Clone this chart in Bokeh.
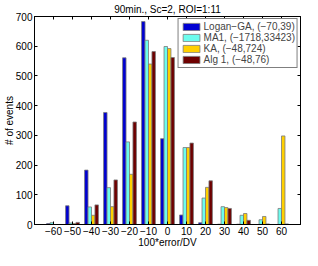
from bokeh.plotting import figure
from bokeh.models import (Range1d, FixedTicker, LinearAxis, Legend, LegendItem,
                          ColumnDataSource)
from bokeh.embed import file_html
from bokeh.resources import INLINE

# ---- data ----
bins = [-60, -50, -40, -30, -20, -10, 0, 10, 20, 30, 40, 50, 60]
logan_ga = [3, 63, 183, 377, 561, 683, 289, 32, 6, 1, 1, 0, 0]
ma1 = [6, 5, 59, 124, 278, 620, 599, 259, 89, 60, 31, 16, 54]
ka = [0, 3, 31, 60, 169, 540, 592, 259, 125, 57, 37, 27, 298]
alg1 = [0, 7, 66, 150, 345, 582, 562, 274, 147, 54, 14, 2, 2]
series_names = ["Logan\u2212GA, (\u221270,39)", "MA1, (\u22121718,33423)",
                "KA, (\u221248,724)", "Alg 1, (\u221248,76)"]
series_colors = ["#0000D2", "#6CFCEE", "#FFD000", "#6E0000"]
x_ticks = bins
x_tick_labels = ["\u221260", "\u221250", "\u221240", "\u221230", "\u221220", "\u221210",
                 "0", "10", "20", "30", "40", "50", "60"]
y_ticks = [0, 100, 200, 300, 400, 500, 600, 700]
title_text = "90min., Sc=2, ROI=1:11"
x_label = "100*error/DV"
y_label = "# of events"

FONT = "Liberation Sans"
FS = "10px"

p = figure(width=302, height=250, output_backend="svg", toolbar_location=None,
           x_range=Range1d(-70, 70), y_range=Range1d(0, 700),
           min_border_left=10, min_border_right=2, min_border_top=4, min_border_bottom=4,
           x_axis_location=None, y_axis_location=None)
p.xgrid.visible = False
p.ygrid.visible = False
p.outline_line_color = "black"
p.outline_line_width = 1
p.background_fill_color = "white"

def style_axis(ax, ticks, labels=None, show_labels=True):
    ax.ticker = FixedTicker(ticks=ticks)
    ax.major_tick_in = 3
    ax.major_tick_out = 0
    ax.minor_tick_line_color = None
    ax.axis_line_color = "black"
    ax.major_tick_line_color = "black"
    ax.axis_label_text_font = FONT
    ax.axis_label_text_font_size = FS
    ax.axis_label_text_font_style = "normal"
    ax.axis_label_text_color = "black"
    ax.axis_label_text_line_height = 0.9
    if labels is not None:
        ax.major_label_overrides = {t: l for t, l in zip(ticks, labels)}
    if show_labels:
        ax.major_label_text_font = FONT
        ax.major_label_text_font_size = FS
        ax.major_label_text_color = "black"
        ax.major_label_text_line_height = 0.9
        ax.major_label_standoff = 2
    else:
        ax.major_label_text_font_size = "0px"
        ax.major_label_text_color = None
        ax.major_label_standoff = 0

xb = LinearAxis(axis_label=x_label, axis_label_standoff=-1)
style_axis(xb, x_ticks, x_tick_labels)
p.add_layout(xb, "below")
xt = LinearAxis(axis_label=title_text, axis_label_standoff=2)
style_axis(xt, x_ticks, show_labels=False)
p.add_layout(xt, "above")
yl = LinearAxis(axis_label=y_label, axis_label_standoff=-2)
style_axis(yl, y_ticks)
p.add_layout(yl, "left")
yr = LinearAxis()
style_axis(yr, y_ticks, show_labels=False)
p.add_layout(yr, "right")

n = 4
group_w = 10 * min(0.8, n / (n + 1.5))
bw = group_w / n
items = []
for i, (vals, name, col) in enumerate(zip([logan_ga, ma1, ka, alg1], series_names, series_colors)):
    off = (i - (n - 1) / 2) * bw
    src = ColumnDataSource(dict(x=[b + off for b in bins], top=vals))
    r = p.vbar(x="x", top="top", width=bw, bottom=0, source=src,
               fill_color=col, line_color="#7A7A7A", line_width=0.8)
    items.append(LegendItem(label=name, renderers=[r]))

legend = Legend(items=items, location="top_right", orientation="vertical",
                label_text_font=FONT, label_text_font_size=FS,
                glyph_width=21, glyph_height=9, label_height=9, label_standoff=2,
                spacing=0, padding=2, margin=2,
                border_line_color="black", border_line_width=0.8,
                background_fill_color="white", background_fill_alpha=1.0)
p.add_layout(legend, "center")

open("out.html", "w").write(file_html(p, INLINE))
